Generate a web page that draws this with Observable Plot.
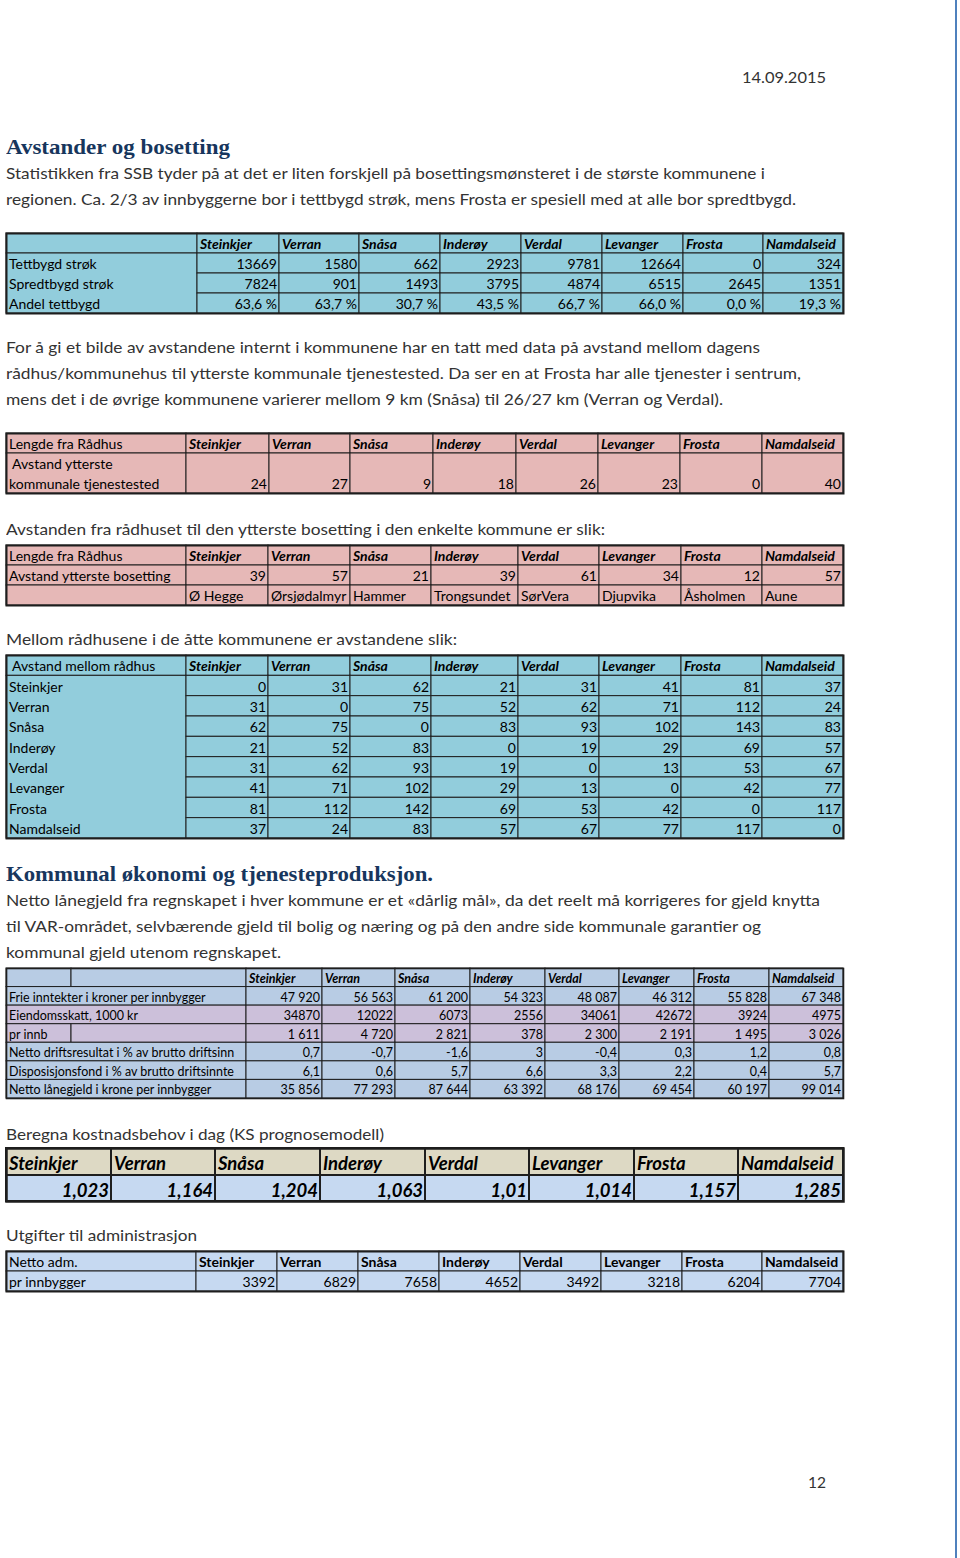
<!DOCTYPE html>
<html><head><meta charset="utf-8">
<script src="https://cdn.jsdelivr.net/npm/d3@7"></script>
<script src="https://cdn.jsdelivr.net/npm/@observablehq/plot@0.6"></script>
<style>
html,body{margin:0;padding:0;background:#fff;}
body{width:960px;height:1558px;position:relative;overflow:hidden;font-family:Lato,"Open Sans",sans-serif;}
.line{position:absolute;white-space:nowrap;font-size:16px;line-height:20px;color:#333;transform-origin:0 50%;display:inline-block;}
.h{font-family:"Liberation Serif",serif;font-weight:bold;color:#17365d;font-size:21px;line-height:24px;}
.tbl{position:absolute;}
.tbl svg{display:block;}
#edge{position:absolute;left:955px;top:0;width:2px;height:1558px;background:#4f81bd;}
</style></head><body>
<div id="edge"></div>
<script>
// ---------- data ----------
const municipalities = ["Steinkjer","Verran","Snåsa","Inderøy","Verdal","Levanger","Frosta","Namdalseid"];

// Table 1: bosetting
const settlementRows = ["Tettbygd strøk","Spredtbygd strøk","Andel tettbygd"];
const tettbygd = [13669,1580,662,2923,9781,12664,0,324];
const spredtbygd = [7824,901,1493,3795,4874,6515,2645,1351];
const andelTettbygd = [63.6,63.7,30.7,43.5,66.7,66.0,0.0,19.3];

// Table 2: ytterste kommunale tjenestested
const lengdeLabel = "Lengde fra Rådhus";
const tjenestestedLabel = "\u00a0Avstand ytterste\nkommunale tjenestested";
const ytterstTjenestested = [24,27,9,18,26,23,0,40];

// Table 3: ytterste bosetting
const bosettingLabel = "Avstand ytterste bosetting";
const ytterstBosetting = [39,57,21,39,61,34,12,57];
const ytterstSted = ["Ø Hegge","Ørsjødalmyr","Hammer","Trongsundet","SørVera","Djupvika","Åsholmen","Aune"];

// Table 4: avstand mellom rådhus
const avstandLabel = "\u00a0Avstand mellom rådhus";
const avstandRadhus = [
  [0,31,62,21,31,41,81,37],
  [31,0,75,52,62,71,112,24],
  [62,75,0,83,93,102,143,83],
  [21,52,83,0,19,29,69,57],
  [31,62,93,19,0,13,53,67],
  [41,71,102,29,13,0,42,77],
  [81,112,142,69,53,42,0,117],
  [37,24,83,57,67,77,117,0]
];

// Table 5: økonomi
const okonomiRows = ["Frie inntekter i kroner per innbygger","Eiendomsskatt, 1000 kr","pr innb","Netto driftsresultat i % av brutto driftsinn","Disposisjonsfond i % av brutto driftsinnte","Netto lånegjeld i krone per innbygger"];
const frieInntekter = [47920,56563,61200,54323,48087,46312,55828,67348];
const eiendomsskatt = [34870,12022,6073,2556,34061,42672,3924,4975];
const eiendomsskattPrInnb = [1611,4720,2821,378,2300,2191,1495,3026];
const nettoDriftsresultat = [0.7,-0.7,-1.6,3,-0.4,0.3,1.2,0.8];
const disposisjonsfond = [6.1,0.6,5.7,6.6,3.3,2.2,0.4,5.7];
const nettoLanegjeld = [35856,77293,87644,63392,68176,69454,60197,99014];

// Table 6: kostnadsbehov
const kostnadsbehov = [1.023,1.164,1.204,1.063,1.01,1.014,1.157,1.285];

// Table 7: administrasjon
const admLabels = ["Netto adm.","pr innbygger"];
const nettoAdm = [3392,6829,7658,4652,3492,3218,6204,7704];

// ---------- formatting ----------
const fmtDec = v => String(v).replace(".", ",").replace("-", "-");
const fmtGroup = v => d3.format(",")(v).replace(/,/g, " ");
const fmtPct = v => d3.format(".1f")(v).replace(".", ",") + " %";

// ---------- text lines ----------
const textLines = [
  {t:"14.09.2015", y:77, x:742, w:84},
  {t:"Avstander og bosetting", y:147, x:6, w:224, h:true},
  {t:"Statistikken fra SSB tyder på at det er liten forskjell på bosettingsmønsteret i de største kommunene i", y:173, x:6, w:759},
  {t:"regionen. Ca. 2/3 av innbyggerne bor i tettbygd strøk, mens Frosta er spesiell med at alle bor spredtbygd.", y:199, x:6, w:790},
  {t:"For å gi et bilde av avstandene internt i kommunene har en tatt med data på avstand mellom dagens", y:347, x:6, w:754},
  {t:"rådhus/kommunehus til ytterste kommunale tjenestested. Da ser en at Frosta har alle tjenester i sentrum,", y:373, x:6, w:795},
  {t:"mens det i de øvrige kommunene varierer mellom 9 km (Snåsa) til 26/27 km (Verran og Verdal).", y:399, x:6, w:717},
  {t:"Avstanden fra rådhuset til den ytterste bosetting i den enkelte kommune er slik:", y:529, x:6, w:599},
  {t:"Mellom rådhusene i de åtte kommunene er avstandene slik:", y:639, x:6, w:451},
  {t:"Kommunal økonomi og tjenesteproduksjon.", y:874, x:6, w:427, h:true},
  {t:"Netto lånegjeld fra regnskapet i hver kommune er et «dårlig mål», da det reelt må korrigeres for gjeld knytta", y:900, x:6, w:814},
  {t:"til VAR-området, selvbærende gjeld til bolig og næring og på den andre side kommunale garantier og", y:926, x:6, w:755},
  {t:"kommunal gjeld utenom regnskapet.", y:952, x:6, w:275},
  {t:"Beregna kostnadsbehov i dag (KS prognosemodell)", y:1134, x:6, w:378},
  {t:"Utgifter til administrasjon", y:1235, x:6, w:191},
  {t:"12", y:1482, x:808, w:18}
];
for (const L of textLines) {
  const el = document.createElement("div");
  el.className = "line" + (L.h ? " h" : "");
  el.textContent = L.t;
  document.body.appendChild(el);
  const lh = L.h ? 24 : 20;
  el.style.left = L.x + "px";
  el.style.top = (L.y - lh / 2) + "px";
  const w = el.getBoundingClientRect().width;
  if (w > 0) el.style.transform = `scaleX(${L.w / w})`;
}

// ---------- table renderer ----------
function drawTable({top, left = 6, colW, rowH, boxes, texts, stroke = "#1e1e1e", strokeWidth = 1, frameWidth = 2, lineHeight = 1.43}) {
  const xE = Array.from(d3.cumsum([0, ...colW]));
  const yE = Array.from(d3.cumsum([0, ...rowH]));
  const W = xE[xE.length - 1], H = yE[yE.length - 1];
  const m = 2;
  const groups = d3.groups(texts, t => [t.anchor || "start", t.weight || "normal", t.style || "normal", t.size || 14, t.pad ?? 4.5].join("|"));
  const textMarks = groups.map(([key, arr]) => {
    const [anchor, weight, style, size, pad] = key.split("|");
    return Plot.text(arr, {
      x: t => anchor === "end" ? xE[t.c2 ?? t.c + 1] - 2.5 : xE[t.c] + 2.5,
      y: t => yE[t.r2 ?? t.r + 1] - +pad,
      text: "text",
      textAnchor: anchor,
      lineAnchor: "bottom",
      lineHeight,
      fontFamily: "Lato",
      fontSize: +size,
      fontWeight: weight,
      fontStyle: style,
      fill: "#000"
    });
  });
  const plot = Plot.plot({
    width: W + 2 * m, height: H + 2 * m, margin: m,
    x: {type: "linear", domain: [0, W], range: [m, W + m], axis: null},
    y: {type: "linear", domain: [0, H], range: [m, H + m], axis: null},
    color: {type: "identity"},
    style: {background: "transparent", overflow: "visible"},
    marks: [
      Plot.rect(boxes, {x1: b => xE[b.c1], x2: b => xE[b.c2], y1: b => yE[b.r1], y2: b => yE[b.r2], fill: "fill", stroke, strokeWidth}),
      Plot.frame({stroke, strokeWidth: frameWidth}),
      ...textMarks
    ]
  });
  const div = document.createElement("div");
  div.className = "tbl";
  div.style.left = (left - m) + "px";
  div.style.top = (top - m) + "px";
  div.appendChild(plot);
  document.body.appendChild(div);
}
const cellGrid = (rows, c0, c1, fill) => {
  const out = [];
  for (const r of rows) for (let c = c0; c < c1; c++) out.push({r1: r, r2: r + 1, c1: c, c2: c + 1, fill: typeof fill === "function" ? fill(r) : fill});
  return out;
};
const headerTexts = (c0, opts) => municipalities.map((m, i) => ({text: m, r: 0, c: c0 + i, ...opts}));
const valueTexts = (r, c0, vals, fmt, opts = {}) => vals.map((v, i) => ({text: fmt(v), r, c: c0 + i, anchor: "end", ...opts}));

// Table 1
{
  const fill = "#92cddc";
  drawTable({
    top: 233, colW: [191,82,80,81,81,81,81,80,80], rowH: [20,20,20,20],
    boxes: [{r1:0,r2:1,c1:0,c2:1,fill}, {r1:1,r2:4,c1:0,c2:1,fill}, ...cellGrid([0,1,2,3],1,9,fill)],
    texts: [
      ...headerTexts(1, {weight:"bold", style:"italic"}),
      ...settlementRows.map((s, i) => ({text: s, r: i + 1, c: 0})),
      ...valueTexts(1, 1, tettbygd, String),
      ...valueTexts(2, 1, spredtbygd, String),
      ...valueTexts(3, 1, andelTettbygd, fmtPct)
    ]
  });
}
// Table 2
{
  const fill = "#e6b8b7";
  drawTable({
    top: 433, colW: [180,83,81,83,83,82,82,82,81], rowH: [20,40],
    boxes: cellGrid([0,1],0,9,fill),
    texts: [
      {text: lengdeLabel, r: 0, c: 0},
      ...headerTexts(1, {weight:"bold", style:"italic"}),
      {text: tjenestestedLabel, r: 1, c: 0},
      ...valueTexts(1, 1, ytterstTjenestested, String)
    ]
  });
}
// Table 3
{
  const fill = "#e6b8b7";
  drawTable({
    top: 545, colW: [180,82,82,81,87,81,82,81,81], rowH: [20,20,20],
    boxes: cellGrid([0,1,2],0,9,fill),
    texts: [
      {text: lengdeLabel, r: 0, c: 0},
      ...headerTexts(1, {weight:"bold", style:"italic"}),
      {text: bosettingLabel, r: 1, c: 0},
      ...valueTexts(1, 1, ytterstBosetting, String),
      ...ytterstSted.map((s, i) => ({text: s, r: 2, c: i + 1}))
    ]
  });
}
// Table 4
{
  const fill = "#92cddc";
  const rows = d3.range(9);
  drawTable({
    top: 655, colW: [180,82,82,81,87,81,82,81,81], rowH: rows.map(() => 20.33),
    boxes: [{r1:0,r2:1,c1:0,c2:1,fill}, {r1:1,r2:9,c1:0,c2:1,fill}, ...cellGrid(rows,1,9,fill)],
    texts: [
      {text: avstandLabel, r: 0, c: 0},
      ...headerTexts(1, {weight:"bold", style:"italic"}),
      ...municipalities.map((m, i) => ({text: m, r: i + 1, c: 0})),
      ...avstandRadhus.flatMap((row, i) => valueTexts(i + 1, 1, row, String))
    ]
  });
}
// Table 5
{
  const blue = "#b8cce4", purple = "#ccc0da";
  const rowFill = r => (r === 2 || r === 3) ? purple : blue;
  const rows = d3.range(7);
  const sz = 12.5, pad = 4;
  const splitRows = [0, 3];
  const labelBoxes = rows.flatMap(r => splitRows.includes(r)
    ? [{r1:r,r2:r+1,c1:0,c2:1,fill:rowFill(r)}, {r1:r,r2:r+1,c1:1,c2:2,fill:rowFill(r)}]
    : [{r1:r,r2:r+1,c1:0,c2:2,fill:rowFill(r)}]);
  const series = [
    [frieInntekter, fmtGroup],
    [eiendomsskatt, String],
    [eiendomsskattPrInnb, fmtGroup],
    [nettoDriftsresultat, fmtDec],
    [disposisjonsfond, fmtDec],
    [nettoLanegjeld, fmtGroup]
  ];
  drawTable({
    top: 968, colW: [65,175,76,73,75,75,74,75,75,74], rowH: rows.map(() => 18.57), frameWidth: 1.6,
    boxes: [...labelBoxes, ...cellGrid(rows,2,10,rowFill)],
    texts: [
      ...headerTexts(2, {weight:"bold", style:"italic", size: sz, pad}),
      ...okonomiRows.map((s, i) => ({text: s, r: i + 1, c: 0, size: sz, pad})),
      ...series.flatMap(([vals, fmt], i) => valueTexts(i + 1, 2, vals, fmt, {size: sz, pad}))
    ]
  });
}
// Table 6
{
  drawTable({
    top: 1148, colW: [105,104,105,105,104,105,104,105], rowH: [27,26], strokeWidth: 2, frameWidth: 2.5,
    boxes: [...cellGrid([0],0,8,"#ddd9c4"), ...cellGrid([1],0,8,"#c6d9f1")],
    texts: [
      ...headerTexts(0, {weight:"bold", style:"italic", size: 18.5, pad: 5.5}),
      ...valueTexts(1, 0, kostnadsbehov, fmtDec, {weight:"bold", style:"italic", size: 18.5, pad: 5})
    ]
  });
}
// Table 7
{
  const fill = "#c6d9f1";
  drawTable({
    top: 1251, colW: [190,81,81,81,81,81,81,80,81], rowH: [20,20],
    boxes: cellGrid([0,1],0,9,fill),
    texts: [
      {text: admLabels[0], r: 0, c: 0},
      ...headerTexts(1, {weight:"bold"}),
      {text: admLabels[1], r: 1, c: 0},
      ...valueTexts(1, 1, nettoAdm, String)
    ]
  });
}
</script>
</body></html>
